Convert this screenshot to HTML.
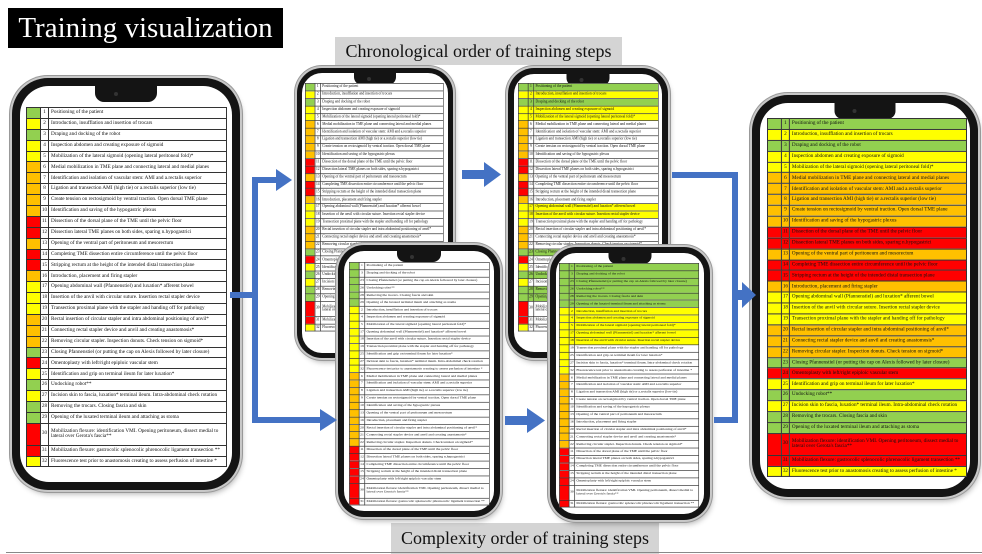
<!DOCTYPE html>
<html><head><meta charset="utf-8">
<style>
*{margin:0;padding:0;box-sizing:border-box}
body{width:982px;height:554px;background:#fff;position:relative;overflow:hidden;font-family:"Liberation Serif",serif}
.title{position:absolute;left:8px;top:8px;width:275px;height:40px;background:#000;color:#fff;font-size:29px;line-height:40px;text-align:center;white-space:nowrap}
.lbl{position:absolute;background:#d4d4d4;color:#111;font-size:18px;text-align:center;white-space:nowrap}
.phone{position:absolute;background:#141414;box-shadow:0 0 0 2px #c8c8c8,0 0 0 3px #999,2px 4px 6px rgba(0,0,0,.3)}
.scr{position:absolute;background:#fff}
.notch{position:absolute;background:#141414;left:50%;transform:translateX(-50%);top:0}
.notch:after{content:"";position:absolute;width:4px;height:4px;border-radius:50%;background:#333;left:30%;top:35%}
.tbl{position:absolute;transform-origin:0 0;height:362px;overflow:hidden}
table{border-collapse:collapse;width:201px;font-size:5.2px;line-height:5.5px;font-family:"Liberation Serif",serif;table-layout:fixed;background:#fff}
td{border:0.6px solid #333;padding:0 2px;white-space:nowrap;overflow:hidden;height:10.9px;color:#111}
td.n{text-align:center;padding:0}
tr.dbl td{height:21.8px;white-space:normal}
tr.g td.c{background:#92d050}tr.y td.c{background:#ffff00}tr.o td.c{background:#ffc000}tr.r td.c{background:#ff0000}
.hl tr.g td{background:#92d050}.hl tr.y td{background:#ffff00}
.all tr.o td{background:#ffc000}.all tr.r td{background:#ff0000}
svg{position:absolute;left:0;top:0}
</style></head><body>
<div class="title">Training visualization</div>
<div class="lbl" style="left:335px;top:37px;width:287px;height:28px;line-height:28px">Chronological order of training steps</div>
<div class="lbl" style="left:391px;top:523px;width:268px;height:31px;line-height:31px">Complexity order of training steps</div>
<div style="position:absolute;left:6px;top:552px;width:976px;height:1px;background:#888"></div>

<div class="phone" id="p1" style="left:12px;top:78px;width:228px;height:412px;border-radius:36px">
<div class="scr" style="left:8px;top:8px;right:8px;bottom:8px;border-radius:29px"></div>
<div class="notch" style="top:8px;width:62px;height:16px;border-radius:0 0 9px 9px"></div>
</div>
<div class="tbl" id="t1" style="left:26px;top:107px">
<table><colgroup><col style="width:14px"><col style="width:8px"><col></colgroup><tbody>
<tr class="g"><td class="c"></td><td class="n">1</td><td>Positioning of the patient</td></tr>
<tr class="y"><td class="c"></td><td class="n">2</td><td>Introduction, insufflation and insertion of trocars</td></tr>
<tr class="g"><td class="c"></td><td class="n">3</td><td>Draping and docking of the robot</td></tr>
<tr class="y"><td class="c"></td><td class="n">4</td><td>Inspection abdomen and creating exposure of sigmoid</td></tr>
<tr class="y"><td class="c"></td><td class="n">5</td><td>Mobilization of the lateral sigmoid (opening lateral peritoneal fold)*</td></tr>
<tr class="o"><td class="c"></td><td class="n">6</td><td>Medial mobilization in TME plane and connecting lateral and medial planes</td></tr>
<tr class="o"><td class="c"></td><td class="n">7</td><td>Identification and isolation of vascular stem: AMI and a.rectalis superior</td></tr>
<tr class="o"><td class="c"></td><td class="n">8</td><td>Ligation and transection AMI (high tie) or a.rectalis superior (low tie)</td></tr>
<tr class="o"><td class="c"></td><td class="n">9</td><td>Create tension on rectosigmoid by ventral traction. Open dorsal TME plane</td></tr>
<tr class="o"><td class="c"></td><td class="n">10</td><td>Identification and saving of the hypogastric plexus</td></tr>
<tr class="r"><td class="c"></td><td class="n">11</td><td>Dissection of the dorsal plane of the TME until the pelvic floor</td></tr>
<tr class="r"><td class="c"></td><td class="n">12</td><td>Dissection lateral TME planes on both sides, sparing n.hypogastrici</td></tr>
<tr class="o"><td class="c"></td><td class="n">13</td><td>Opening of the ventral part of peritoneum and mesorectum</td></tr>
<tr class="r"><td class="c"></td><td class="n">14</td><td>Completing TME dissection entire circumference until the pelvic floor</td></tr>
<tr class="r"><td class="c"></td><td class="n">15</td><td>Stripping rectum at the height of the intended distal transection plane</td></tr>
<tr class="o"><td class="c"></td><td class="n">16</td><td>Introduction, placement and firing stapler</td></tr>
<tr class="y"><td class="c"></td><td class="n">17</td><td>Opening abdominal wall (Pfannenstiel) and luxation* afferent bowel</td></tr>
<tr class="y"><td class="c"></td><td class="n">18</td><td>Insertion of the anvil with circular suture. Insertion rectal stapler device</td></tr>
<tr class="y"><td class="c"></td><td class="n">19</td><td>Transection proximal plane with the stapler and handing off for pathology</td></tr>
<tr class="o"><td class="c"></td><td class="n">20</td><td>Rectal insertion of circular stapler and intra abdominal positioning of anvil*</td></tr>
<tr class="o"><td class="c"></td><td class="n">21</td><td>Connecting rectal stapler device and anvil and creating anastomosis*</td></tr>
<tr class="o"><td class="c"></td><td class="n">22</td><td>Removing circular stapler. Inspection donuts. Check tension on sigmoid*</td></tr>
<tr class="g"><td class="c"></td><td class="n">23</td><td>Closing Pfannenstiel (or putting the cap on Alexis followed by later closure)</td></tr>
<tr class="r"><td class="c"></td><td class="n">24</td><td>Omentoplasty with left/right epiploic vascular stem</td></tr>
<tr class="y"><td class="c"></td><td class="n">25</td><td>Identification and grip on terminal ileum for later luxation*</td></tr>
<tr class="g"><td class="c"></td><td class="n">26</td><td>Undocking robot**</td></tr>
<tr class="y"><td class="c"></td><td class="n">27</td><td>Incision skin to fascia, luxation* terminal ileum. Intra-abdominal check rotation</td></tr>
<tr class="g"><td class="c"></td><td class="n">28</td><td>Removing the trocars. Closing fascia and skin</td></tr>
<tr class="g"><td class="c"></td><td class="n">29</td><td>Opening of the luxated terminal ileum and attaching as stoma</td></tr>
<tr class="r dbl"><td class="c"></td><td class="n">30</td><td>Mobilization flexure: identification VMI. Opening peritoneum, dissect medial to lateral over Gerota's fascia**</td></tr>
<tr class="r"><td class="c"></td><td class="n">31</td><td>Mobilization flexure: gastrocolic splenocolic phrenocolic ligament transection **</td></tr>
<tr class="y"><td class="c"></td><td class="n">32</td><td>Fluorescence test prior to anastomosis creating to assess perfusion of intestine *</td></tr>
</tbody></table></div>

<svg width="982" height="554" style="z-index:50">
<g fill="#4472c4">
<rect x="230" y="292" width="28" height="6"/>
<rect x="252" y="177" width="6" height="246"/>
<rect x="252" y="177" width="26" height="6"/><polygon points="276,169 292,180 276,191"/>
<rect x="252" y="417" width="70" height="6"/><polygon points="320,409 337,420 320,431"/>
<rect x="462" y="170" width="24" height="9"/><polygon points="484,162 501,174.5 484,187"/>
<rect x="505" y="416" width="24" height="9"/><polygon points="527,408 545,420.5 527,433"/>
<rect x="672" y="172" width="66" height="6"/>
<rect x="732" y="172" width="6" height="251"/>
<rect x="714" y="417" width="24" height="6"/>
<rect x="732" y="290" width="12" height="10"/><polygon points="742,282 756,295 742,308"/>
</g></svg>

<script>
var base=document.getElementById('t1');
var cx=[0,2,22,25,27,28,1,3,4,16,17,18,24,26,31,5,6,7,8,9,12,15,19,20,21,10,11,13,14,23,29,30];
function phone(x,y,w,h,z){
 var r=Math.round(w*0.16);
 var d=document.createElement('div');d.className='phone';
 d.style.cssText='left:'+x+'px;top:'+y+'px;width:'+w+'px;height:'+h+'px;border-radius:'+r+'px;z-index:'+z;
 var s=Math.max(5,Math.round(w*0.035));
 d.innerHTML='<div class="scr" style="left:'+s+'px;top:'+s+'px;right:'+s+'px;bottom:'+s+'px;border-radius:'+(r-s)+'px"></div><div class="notch" style="top:'+s+'px;width:'+Math.round(w*0.27)+'px;height:'+Math.round(h*0.04)+'px;border-radius:0 0 8px 8px"></div>';
 document.body.appendChild(d);
}
function tbl(x,y,sx,sy,order,cls,z){
 var t=base.cloneNode(true);t.removeAttribute('id');
 t.style.cssText='left:'+x+'px;top:'+y+'px;transform:scale('+sx+','+sy+');z-index:'+z;
 var tb=t.querySelector('tbody');var rs=[].slice.call(tb.querySelectorAll('tr'));
 tb.innerHTML='';
 order.forEach(function(i){tb.appendChild(rs[i]);});
 if(cls)t.className+=' '+cls;
 document.body.appendChild(t);
 return t;
}
var seq=[];for(var i=0;i<32;i++)seq.push(i);
var hl=[0,1,2,3,4,16,17,22,25,27,28];
phone(297,68,156,290,10);tbl(305,83,0.69,0.69,seq,'',11);
phone(508,68,160,290,10);var t3=tbl(518,83,0.70,0.69,seq,'',11);
phone(338,245,162,272,20);tbl(349,262,0.70,0.676,cx,'',21);
phone(550,247,160,273,20);var t5=tbl(559,263,0.697,0.679,cx,'',21);
phone(752,95,226,402,20);tbl(767,118,0.995,0.997,seq,'hl all',21);
var col={g:'#92d050',y:'#ffff00'};
[t3,t5].forEach(function(t){
 [].forEach.call(t.querySelectorAll('tr'),function(r){
  var n=parseInt(r.querySelector('.n').textContent,10)-1;
  if(hl.indexOf(n)>=0){var c=r.classList.contains('g')?col.g:col.y;
   [].forEach.call(r.querySelectorAll('td'),function(td){td.style.background=c;});}
 });
});
</script>
</body></html>
